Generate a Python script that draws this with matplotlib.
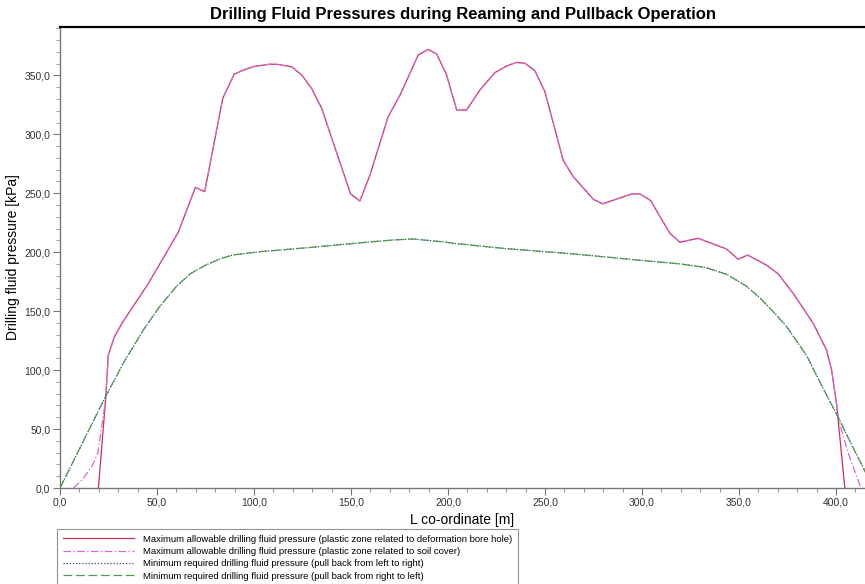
"""Drilling fluid pressures during reaming and pullback - recreated chart."""

import matplotlib

matplotlib.use("Agg")

import matplotlib.pyplot as plt
from matplotlib.ticker import FuncFormatter, MultipleLocator

plt.rcParams["font.family"] = ["Liberation Sans", "DejaVu Sans"]

# max allowable pressure, plastic zone related to deformation bore hole
dfm_x = [19.8, 23.5, 24.9, 28.0, 32.0, 45.0, 55.0, 61.0, 69.8, 74.6, 83.9, 89.8, 95.4, 100.0,
         107.9, 111.7, 119.4, 124.6, 129.7, 134.9, 149.8, 154.6, 159.8, 169.2, 175.3, 184.7,
         189.8, 194.2, 199.3, 204.5, 209.6, 216.5, 224.2, 230.3, 235.4, 239.7, 244.8, 250.0,
         259.4, 264.6, 274.9, 279.7, 294.7, 299.0, 304.5, 314.4, 319.6, 329.0, 335.9, 343.6,
         349.6, 354.5, 364.3, 370.3, 378.0, 388.3, 395.2, 397.8, 400.4, 404.6]
dfm_y = [0.0, 75.0, 112.8, 128.0, 140.0, 172.0, 200.0, 217.0, 255.0, 251.3, 330.5, 351.0, 355.0, 357.5,
         359.4, 359.4, 357.3, 350.3, 339.0, 322.0, 249.4, 243.4, 265.5, 315.0, 333.3, 367.3,
         372.0, 368.0, 350.3, 320.6, 320.6, 337.6, 352.3, 358.0, 361.0, 360.2, 354.0, 336.0,
         278.0, 264.0, 245.0, 241.0, 249.4, 249.4, 243.8, 216.0, 208.4, 211.8, 207.5, 202.7,
         194.0, 197.6, 189.0, 181.5, 165.0, 139.7, 117.0, 100.0, 70.4, 0.0]

# max allowable pressure, plastic zone related to soil cover (differs only at the ends)
soil_left_x = [7.0, 12.0, 17.0, 19.5, 21.5]
soil_left_y = [0.0, 8.0, 20.0, 30.0, 52.0]
soil_right_x = [401.4, 406.4, 412.0, 413.0]
soil_right_y = [57.7, 29.4, 4.0, 0.0]

# min required pressure (both pullback directions give nearly the same curve)
req_x = [0.0, 10.0, 23.0, 33.0, 43.0, 51.0, 60.0, 67.0, 75.0, 82.0, 89.0, 103.0, 129.0, 155.0,
         172.0, 182.0, 196.0, 206.0, 230.0, 265.0, 300.0, 320.0, 333.0, 344.0, 354.0, 361.0,
         368.0, 375.0, 385.0, 392.0, 401.0, 408.0, 416.0]
req_y = [0.0, 33.0, 76.0, 107.0, 134.0, 153.0, 171.0, 181.5, 189.0, 194.0, 197.6, 200.4, 204.0,
         208.0, 210.4, 211.2, 209.0, 207.0, 203.0, 198.5, 193.0, 190.0, 187.0, 181.0, 171.0,
         161.0, 149.0, 136.0, 112.0, 89.0, 60.5, 37.0, 11.0]

labels = [
    "Maximum allowable drilling fluid pressure (plastic zone related to deformation bore hole)",
    "Maximum allowable drilling fluid pressure (plastic zone related to soil cover)",
    "Minimum required drilling fluid pressure (pull back from left to right)",
    "Minimum required drilling fluid pressure (pull back from right to left)",
]

soil_x = soil_left_x + dfm_x[1:-1] + soil_right_x
soil_y = soil_left_y + dfm_y[1:-1] + soil_right_y

fig = plt.figure(figsize=(8.65, 5.84), dpi=100)
ax = fig.add_axes([60 / 865, 96 / 584, 1 - 60 / 865, 461 / 584])

ax.plot(dfm_x, dfm_y, color="#cc3050", lw=0.9, label=labels[0])
ax.plot(soil_x, soil_y, color="#d468d8", lw=0.9, ls=(0, (6, 2, 1, 2)), label=labels[1])
ax.plot(req_x, req_y, color="#3a4a7a", lw=0.9, ls=(0, (1, 1.5)), label=labels[2])
ax.plot(req_x, req_y, color="#4e9a4e", lw=0.9, ls=(0, (7, 3)), label=labels[3])

ax.set_xlim(0, 415)
ax.set_ylim(0, 391)
ax.xaxis.set_major_locator(MultipleLocator(50))
ax.xaxis.set_minor_locator(MultipleLocator(10))
ax.yaxis.set_major_locator(MultipleLocator(50))
ax.yaxis.set_minor_locator(MultipleLocator(10))
comma = FuncFormatter(lambda v, pos: f"{v:.1f}".replace(".", ","))
ax.xaxis.set_major_formatter(comma)
ax.yaxis.set_major_formatter(comma)

ax.tick_params(which="major", direction="out", length=5, width=0.8, color="#777777",
               labelsize=7.5, labelcolor="#333333", pad=2)
ax.tick_params(which="minor", direction="out", length=3, width=0.6, color="#888888")

for side in ("left", "bottom"):
    ax.spines[side].set_color("#777777")
    ax.spines[side].set_linewidth(1.0)
ax.spines["right"].set_visible(False)
ax.spines["top"].set_color("black")
ax.spines["top"].set_linewidth(1.6)

ax.set_title("Drilling Fluid Pressures during Reaming and Pullback Operation",
             fontsize=12, fontweight="bold", pad=6)
ax.set_xlabel("L co-ordinate [m]", fontsize=10, labelpad=4)
ax.set_ylabel("Drilling fluid pressure [kPa]", fontsize=10, labelpad=3)

leg = fig.legend(loc="upper left", bbox_to_anchor=(57 / 865, 1 - 529 / 584), fontsize=6.8,
                 frameon=True, fancybox=False, edgecolor="#777777", handlelength=7.5,
                 handletextpad=1.0, labelspacing=0.35, borderpad=0.6, borderaxespad=0)
leg.get_frame().set_linewidth(0.8)

fig.savefig("out.png", dpi=100)
